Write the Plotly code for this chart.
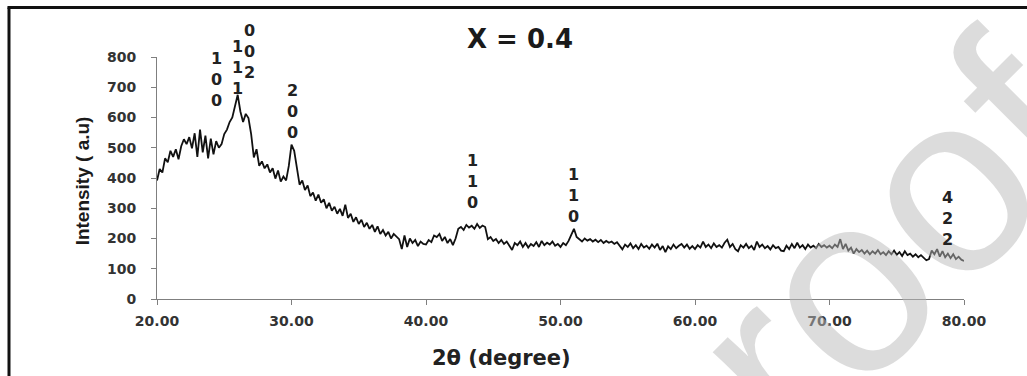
import numpy as np
import plotly.graph_objects as go

# 2-theta sampling grid (degrees)
two_theta = np.round(np.arange(20.0, 80.0001, 0.2), 1)

# Intensity (a.u.), 0.2 degree steps
int_20_30 = [392, 430, 418, 465, 452, 490, 470, 495, 462, 505,
             528, 512, 535, 498, 548, 470, 560, 485, 540, 465,
             530, 478, 522, 500, 512, 545, 560, 585, 600, 640,
             675, 620, 585, 612, 598, 545, 468, 495, 440, 455,
             432, 445, 418, 432, 398, 425, 388, 405, 392, 440]
int_30_40 = [510, 490, 425, 378, 392, 360, 375, 340, 352, 325,
             345, 318, 330, 300, 318, 292, 305, 282, 298, 275,
             312, 268, 282, 255, 270, 248, 262, 238, 252, 232,
             245, 222, 240, 215, 228, 210, 222, 200, 215, 205,
             198, 165, 210, 172, 200, 185, 195, 175, 190, 182]
int_40_50 = [180, 195, 188, 210, 205, 215, 192, 205, 185, 198,
             178, 200, 232, 238, 228, 245, 236, 242, 232, 248,
             235, 243, 238, 198, 205, 192, 198, 185, 195, 182,
             190, 176, 162, 185, 178, 190, 172, 185, 170, 182,
             175, 188, 172, 192, 178, 186, 180, 190, 176, 182]
int_50_60 = [172, 185, 178, 192, 212, 232, 205, 198, 190, 200,
             193, 198, 190, 196, 188, 195, 185, 192, 186, 190,
             182, 188, 175, 164, 180, 172, 184, 168, 178, 165,
             182, 170, 176, 166, 180, 170, 183, 162, 175, 155,
             174, 165, 180, 168, 176, 182, 170, 180, 166, 175]
int_60_70 = [165, 178, 170, 190, 172, 180, 168, 184, 172, 178,
             170, 186, 196, 172, 182, 165, 158, 178, 170, 182,
             168, 176, 162, 190, 172, 180, 168, 175, 164, 178,
             168, 172, 160, 158, 176, 165, 182, 168, 186, 170,
             178, 165, 180, 170, 176, 168, 182, 172, 178, 170]
int_70_80 = [176, 168, 180, 172, 198, 165, 182, 160, 170, 150,
             165, 155, 162, 150, 160, 148, 158, 150, 162, 148,
             155, 145, 158, 148, 160, 146, 155, 142, 158, 145,
             150, 140, 148, 138, 145, 135, 128, 132, 160, 148,
             165, 140, 158, 138, 150, 135, 148, 132, 140, 130,
             126]
intensity = int_20_30 + int_30_40 + int_40_50 + int_50_60 + int_60_70 + int_70_80

x_ticks = [20, 30, 40, 50, 60, 70, 80]
y_ticks = [0, 100, 200, 300, 400, 500, 600, 700, 800]

# peak (hkl) labels: text, 2theta, intensity position (+ pixel lift for the one above the axis top)
peak_texts = ["1<br>0<br>0", "1<br>1<br>1", "0<br>0<br>2", "2<br>0<br>0",
              "1<br>1<br>0", "1<br>1<br>0", "4<br>2<br>2"]
peak_x = [24.39, 25.95, 26.84, 30.11, 43.42, 50.93, 78.74]
peak_y = [727, 764, 764, 619, 388, 341, 266]
peak_lift = [0, 0, 16, 0, 0, 0, 0]

title_text = "X = 0.4"
x_title = "2θ (degree)"
y_title = "Intensity ( a.u)"
watermark = "proof"

fig = go.Figure()

# light watermark
fig.add_annotation(x=0.845, y=0.03, xref="paper", yref="paper", text=watermark,
                   showarrow=False, xanchor="center", yanchor="middle", textangle=-45,
                   font=dict(family="Liberation Sans, Arial, sans-serif", size=255,
                             color="rgba(185,185,185,0.5)"))

fig.add_trace(go.Scatter(x=two_theta, y=intensity, mode="lines",
                         line=dict(color="#111111", width=1.8),
                         showlegend=False, hoverinfo="skip"))

for t, px, py, lift in zip(peak_texts, peak_x, peak_y, peak_lift):
    fig.add_annotation(x=px, y=py, xref="x", yref="y", text=t, yshift=lift,
                       showarrow=False, xanchor="center", yanchor="middle",
                       font=dict(family="DejaVu Sans", size=16, color="#222222", weight="bold"))

fig.add_annotation(x=0.45, y=1.074, xref="paper", yref="paper", text=title_text,
                   showarrow=False, xanchor="center", yanchor="middle",
                   font=dict(family="DejaVu Sans", size=26, color="#1a1a1a", weight="bold"))
fig.add_annotation(x=0.4275, y=-0.245, xref="paper", yref="paper", text=x_title,
                   showarrow=False, xanchor="center", yanchor="middle",
                   font=dict(family="DejaVu Sans", size=21, color="#222222", weight="bold"))
fig.add_annotation(x=-0.093, y=0.49, xref="paper", yref="paper", text=y_title,
                   showarrow=False, xanchor="center", yanchor="middle", textangle=-90,
                   font=dict(family="Liberation Sans, Arial, sans-serif",
                             size=19, color="#1a1a1a", weight="bold"))

fig.update_layout(
    width=1027, height=376,
    margin=dict(l=157, r=63, t=57, b=77),
    paper_bgcolor="white", plot_bgcolor="white",
    shapes=[
        dict(type="line", xref="paper", yref="paper", x0=-0.1834, x1=-0.1834, y0=-0.35, y1=1.2041,
             line=dict(color="#111111", width=3)),
        dict(type="line", xref="paper", yref="paper", x0=-0.1853, x1=1.09, y0=1.2041, y1=1.2041,
             line=dict(color="#111111", width=3)),
    ],
    xaxis=dict(range=[20, 80], tickvals=x_ticks, tickformat=".2f",
               showgrid=False, zeroline=False, showline=True, linecolor="#7f7f7f", linewidth=1,
               ticks="outside", ticklen=5, tickcolor="#7f7f7f", ticklabelstandoff=4,
               tickfont=dict(family="DejaVu Sans", size=14, color="#333333", weight="bold")),
    yaxis=dict(range=[0, 800], tickvals=y_ticks,
               showgrid=False, zeroline=False, showline=True, linecolor="#7f7f7f", linewidth=1,
               ticks="outside", ticklen=5, tickcolor="#7f7f7f", ticklabelstandoff=12,
               tickfont=dict(family="DejaVu Sans", size=14, color="#333333", weight="bold")),
)

fig.write_html("out.html")
